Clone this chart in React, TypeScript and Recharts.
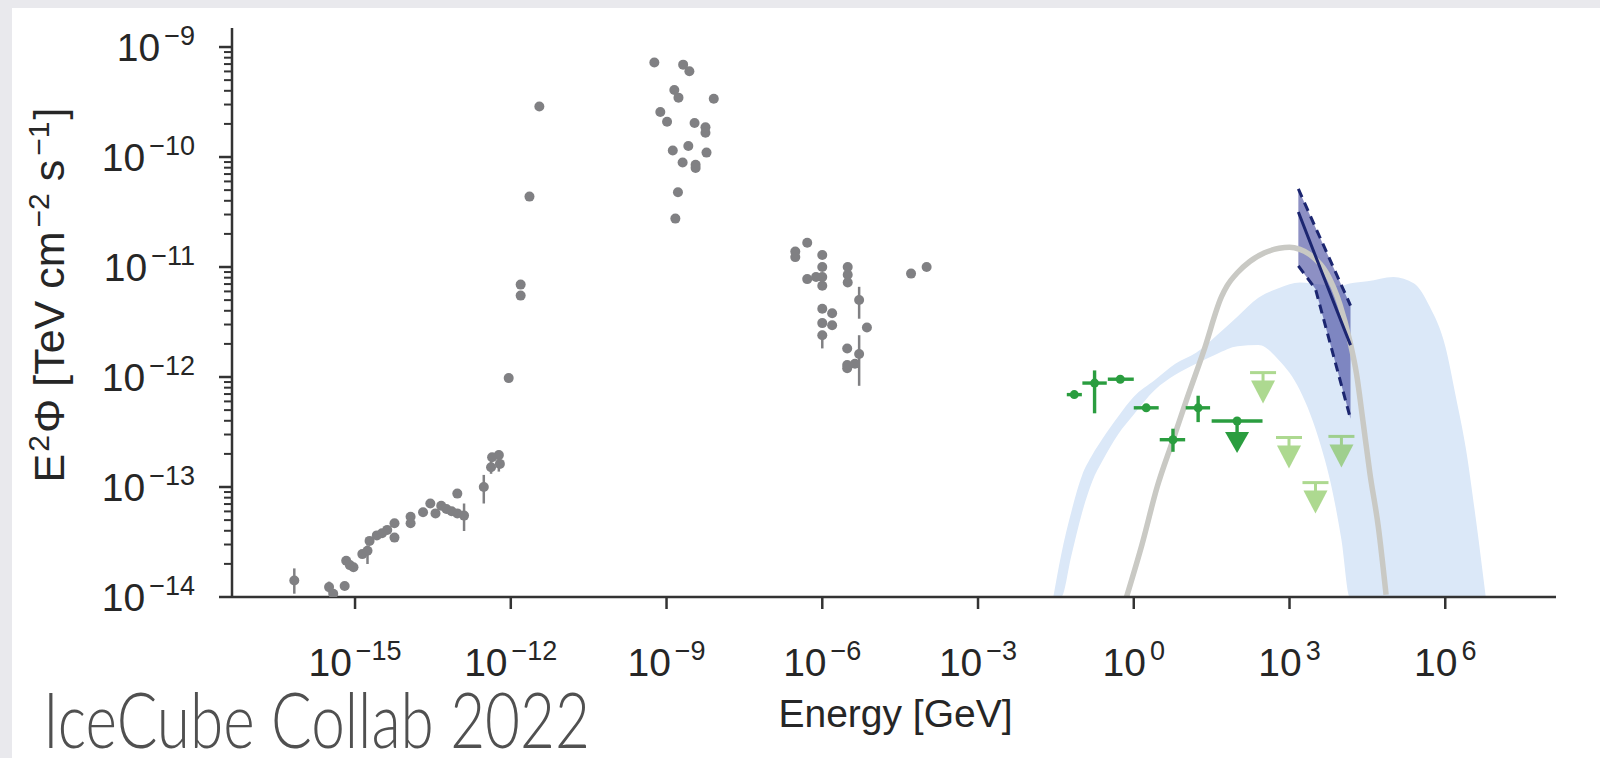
import React from 'react';
import { ComposedChart, XAxis, YAxis, Scatter, Line, Area, ErrorBar } from 'recharts';

const FONT = "'Liberation Sans', Arial, Helvetica, sans-serif";
const INK = '#262626';
const SPINE = '#333333';

// All energies are log10(E / GeV), all fluxes log10(E²Φ / TeV cm⁻² s⁻¹).

// Archival multi-wavelength photon data (no error bars drawn)
const archivalLogE = [
  -15.42, -15.2, -15.17, -15.1, -15.03, -14.86, -14.72, -14.58, -14.48, -14.38,
  -14.24, -14.24, -13.93, -13.93, -13.69, -13.55, -13.45, -13.34, -13.24, -13.14,
  -13.03, -13.03, -12.36, -12.21, -12.04, -11.81, -11.81, -11.64, -11.45,
  -9.235, -8.68, -8.56, -8.85, -8.77, -8.09, -9.12, -8.99, -8.46, -8.25,
  -8.25, -8.88, -8.58, -8.23, -8.69, -8.44, -8.44, -8.78, -8.83,
  -6.29, -6.52, -6.52, -6.0, -6.0, -6.0, -6.29, -6.12, -6.0, -5.51,
  -5.51, -5.51, -4.29, -3.99, -6.0, -5.81, -6.0, -5.81, -5.14, -5.52,
  -5.52, -5.52, -5.37,
];
const archivalLogFlux = [
  -13.97, -13.9, -13.67, -13.71, -13.73, -13.61, -13.49, -13.44, -13.42, -13.39,
  -13.33, -13.46, -13.27, -13.33, -13.23, -13.15, -13.24, -13.17, -13.2, -13.22,
  -13.06, -13.24, -12.73, -12.79, -12.01, -11.16, -11.26, -10.36, -9.54,
  -9.14, -9.16, -9.22, -9.39, -9.46, -9.47, -9.59, -9.68, -9.69, -9.73,
  -9.78, -9.94, -9.9, -9.96, -10.05, -10.07, -10.1, -10.32, -10.56,
  -10.78, -10.86, -10.91, -10.89, -11.0, -11.09, -11.11, -11.09, -11.17, -11.0,
  -11.07, -11.14, -11.06, -11.0, -11.38, -11.42, -11.51, -11.53, -11.55, -11.74,
  -11.89, -11.92, -11.88,
];

// Archival points that carry vertical error bars
const archivalBarLogE = [-16.17, -15.5, -14.76, -12.9, -12.52, -12.38, -12.23, -5.29, -6.0, -5.29];
const archivalBarLogFlux = [-13.85, -13.91, -13.58, -13.26, -13.0, -12.82, -12.71, -11.3, -11.62, -11.79];
const archivalBarLo = [-13.97, -13.96, -13.7, -13.4, -13.15, -12.88, -12.86, -11.47, -11.74, -12.08];
const archivalBarHi = [-13.74, -13.86, -13.53, -13.15, -12.89, -12.74, -12.67, -11.18, -11.58, -11.62];

// Fermi-LAT flux points
const fermiLogE = [-1.146, -0.755, -0.26, 0.24, 0.755, 1.24];
const fermiLogFlux = [-12.16, -12.055, -12.02, -12.28, -12.57, -12.28];
const fermiELo = [-1.29, -0.99, -0.5, 0.0, 0.5, 1.0];
const fermiEHi = [-1.0, -0.52, 0.0, 0.48, 0.99, 1.47];
const fermiFluxLo = [-12.16, -12.33, -12.02, -12.28, -12.68, -12.41];
const fermiFluxHi = [-12.16, -11.94, -12.02, -12.28, -12.47, -12.17];

// Fermi-LAT bin reported as upper limit
const fermiUlLogE = [1.99];
const fermiUlLogFlux = [-12.4];
const fermiUlELo = [1.5];
const fermiUlEHi = [2.48];

// Gamma-ray upper limits at higher energies
const limitLogE = [2.49, 2.99, 3.5, 4.0];
const limitLogFlux = [-11.96, -12.55, -12.96, -12.54];

// Model neutrino band
const bandLogE = [
  -1.55, -1.4, -1.2, -1.0, -0.8, -0.6, -0.3, 0.0, 0.4, 0.8, 1.2, 1.6, 2.0, 2.4, 2.8,
  3.2, 3.6, 3.8, 4.0, 4.16, 4.5, 5.0, 5.4, 5.7, 6.0, 6.2, 6.4, 6.6, 6.78,
];
const bandUpper = [
  -14.0, -13.62, -13.22, -12.9, -12.71, -12.56, -12.36, -12.18, -12.03, -11.88, -11.78, -11.62, -11.45, -11.28, -11.19,
  -11.14, -11.16, -11.17, -11.17, -11.15, -11.13, -11.09, -11.15, -11.36, -11.72, -12.17, -12.66, -13.33, -14.0,
];
const bandLower = [
  -14.0, -14.0, -13.62, -13.24, -12.95, -12.76, -12.52, -12.34, -12.12, -11.98, -11.88, -11.79, -11.72, -11.71, -11.85,
  -12.12, -12.62, -12.98, -13.48, -14.0, -14.0, -14.0, -14.0, -14.0, -14.0, -14.0, -14.0, -14.0, -14.0,
];

// Gamma-ray model curve
const curveLogE = [
  -0.14, 0.16, 0.45, 0.75, 1.0, 1.35, 1.69, 1.8, 2.0, 2.235, 2.52, 2.8, 3.0, 3.2, 3.4,
  3.72, 3.97, 4.16, 4.29, 4.42, 4.55, 4.71, 4.86,
];
const curveLogFlux = [
  -14.0, -13.52, -13.0, -12.58, -12.23, -11.76, -11.27, -11.17, -11.05, -10.95, -10.87, -10.83, -10.82, -10.84, -10.89,
  -11.06, -11.34, -11.67, -11.97, -12.42, -12.88, -13.36, -13.98,
];

// IceCube neutrino power-law fit with its uncertainty envelope
const icLogE = [3.17, 3.5, 4.175];
const icUpper = [-10.29, -10.64, -11.35];
const icLower = [-10.99, -11.2, -12.38];
const icBest = [-10.5, -10.9, -11.71];

// Axis ticks
const xTicks = [-15, -12, -9, -6, -3, 0, 3, 6];
const yDecades = [-14, -13, -12, -11, -10, -9];
const minorMultipliers = [2, 3, 4, 5, 6, 7, 8, 9];

const X_DOMAIN: [number, number] = [-17.37, 8.133];
const Y_DOMAIN: [number, number] = [-14, -8.827];

const yTicks: number[] = [];
yDecades.forEach((d) => {
  yTicks.push(d);
  if (d < -9) minorMultipliers.forEach((k) => yTicks.push(d + Math.log10(k)));
});

// Tables built for the chart
const archivalData = archivalLogE.map((x, i) => ({ x, y: archivalLogFlux[i] }));
const archivalBarData = archivalBarLogE.map((x, i) => ({
  x,
  y: archivalBarLogFlux[i],
  ey: [archivalBarLogFlux[i] - archivalBarLo[i], archivalBarHi[i] - archivalBarLogFlux[i]],
}));
const fermiData = fermiLogE.map((x, i) => ({
  x,
  y: fermiLogFlux[i],
  ex: [x - fermiELo[i], fermiEHi[i] - x],
  ey: [fermiLogFlux[i] - fermiFluxLo[i], fermiFluxHi[i] - fermiLogFlux[i]],
}));
const fermiUlData = fermiUlLogE.map((x, i) => ({
  x,
  y: fermiUlLogFlux[i],
  ex: [x - fermiUlELo[i], fermiUlEHi[i] - x],
}));
const limitData = limitLogE.map((x, i) => ({ x, y: limitLogFlux[i] }));
const bandData = bandLogE.map((x, i) => ({ x, band: [bandLower[i], bandUpper[i]] }));
const curveData = curveLogE.map((x, i) => ({ x, y: curveLogFlux[i] }));
const icBandData = icLogE.map((x, i) => ({ x, band: [icLower[i], icUpper[i]] }));
const icUpperData = icLogE.map((x, i) => ({ x, y: icUpper[i] }));
const icLowerData = icLogE.map((x, i) => ({ x, y: icLower[i] }));
const icBestData = icLogE.map((x, i) => ({ x, y: icBest[i] }));

const GRAY = '#808083';
const GREEN = '#2a9d3f';
const LIGHT_GREEN = '#78c048';
const BAND = '#dbe8f8';
const NAVY = '#1c2670';
const CURVE = '#c9c9c4';

const TICK_FONT = 39;
const TICK_SUP = 27;

const expText = (n: number) => (n < 0 ? '\u2212' + Math.abs(n) : String(n));

const XTick = (props: any) => {
  const { x, y, payload } = props;
  return (
    <g>
      <line x1={x} x2={x} y1={y} y2={y + 12} stroke={SPINE} strokeWidth={2.5} />
      <text x={x} y={y + 79} textAnchor="middle" fontSize={TICK_FONT} fill={INK} fontFamily={FONT}>
        10
        <tspan dx={4} dy={-16} fontSize={TICK_SUP}>
          {expText(payload.value)}
        </tspan>
      </text>
    </g>
  );
};

const YTick = (props: any) => {
  const { x, y, payload } = props;
  const v = payload.value as number;
  const major = Math.abs(v - Math.round(v)) < 1e-9;
  return (
    <g>
      <line
        x1={x - (major ? 13 : 8)}
        x2={x}
        y1={y}
        y2={y}
        stroke={SPINE}
        strokeWidth={major ? 2.5 : 2}
      />
      {major && (
        <text x={x - 37} y={y + 14} textAnchor="end" fontSize={TICK_FONT} fill={INK} fontFamily={FONT}>
          10
          <tspan dx={4} dy={-16} fontSize={TICK_SUP}>
            {expText(Math.round(v))}
          </tspan>
        </text>
      )}
    </g>
  );
};

const dotShape = (r: number, color: string) => (p: any) =>
  <circle cx={p.cx} cy={p.cy} r={r} fill={color} />;

const limitShape = (p: any) => {
  const { cx, cy } = p;
  return (
    <g opacity={0.6}>
      <line x1={cx - 13} x2={cx + 13} y1={cy} y2={cy} stroke={LIGHT_GREEN} strokeWidth={3} />
      <line x1={cx} x2={cx} y1={cy} y2={cy + 9} stroke={LIGHT_GREEN} strokeWidth={3} />
      <polygon points={`${cx - 12},${cy + 8} ${cx + 12},${cy + 8} ${cx},${cy + 31}`} fill={LIGHT_GREEN} />
    </g>
  );
};

const fermiUlShape = (p: any) => {
  const { cx, cy } = p;
  return (
    <g>
      <circle cx={cx} cy={cy} r={4.5} fill={GREEN} />
      <line x1={cx} x2={cx} y1={cy} y2={cy + 12} stroke={GREEN} strokeWidth={3.4} />
      <polygon points={`${cx - 12},${cy + 11} ${cx + 12},${cy + 11} ${cx},${cy + 32}`} fill={GREEN} />
    </g>
  );
};

export default function App() {
  return (
    <div
      style={{
        position: 'absolute',
        left: 0,
        top: 0,
        width: 1600,
        height: 758,
        background: '#e9e9ed',
        overflow: 'hidden',
      }}
    >
      <div style={{ position: 'absolute', left: 12, top: 8, right: 0, bottom: 0, background: '#ffffff' }} />
      <div style={{ position: 'absolute', left: 0, top: 0 }}>
        <ComposedChart width={1600} height={758} margin={{ top: 28, right: 44, bottom: 31, left: 32 }}>
          <XAxis
            dataKey="x"
            type="number"
            domain={X_DOMAIN}
            allowDataOverflow
            ticks={xTicks}
            interval={0}
            height={130}
            tickSize={0}
            tickMargin={0}
            tickLine={false}
            tick={<XTick />}
            axisLine={{ stroke: SPINE, strokeWidth: 2.5 }}
          />
          <XAxis
            xAxisId="top"
            orientation="top"
            dataKey="x"
            type="number"
            domain={X_DOMAIN}
            allowDataOverflow
            height={0}
            tick={false}
            tickLine={false}
            axisLine={{ stroke: SPINE, strokeWidth: 2.5 }}
          />
          <YAxis
            type="number"
            domain={Y_DOMAIN}
            allowDataOverflow
            ticks={yTicks}
            interval={0}
            width={200}
            tickSize={0}
            tickMargin={0}
            tickLine={false}
            tick={<YTick />}
            axisLine={{ stroke: SPINE, strokeWidth: 2.5 }}
          />
          <YAxis
            yAxisId="right"
            orientation="right"
            type="number"
            domain={Y_DOMAIN}
            allowDataOverflow
            width={0}
            tick={false}
            tickLine={false}
            axisLine={{ stroke: SPINE, strokeWidth: 2.5 }}
          />

          <Area
            data={bandData}
            dataKey="band"
            type="monotone"
            stroke="none"
            fill={BAND}
            fillOpacity={1}
            isAnimationActive={false}
          />
          <Line
            data={curveData}
            dataKey="y"
            type="monotone"
            stroke={CURVE}
            strokeWidth={5.5}
            dot={false}
            activeDot={false}
            isAnimationActive={false}
          />
          <Scatter data={archivalData} dataKey="y" shape={dotShape(5, GRAY)} isAnimationActive={false} />
          <Scatter data={archivalBarData} dataKey="y" shape={dotShape(5, GRAY)} isAnimationActive={false}>
            <ErrorBar dataKey="ey" direction="y" width={0} stroke={GRAY} strokeWidth={2.5} />
          </Scatter>
          <Scatter data={fermiData} dataKey="y" shape={dotShape(4.5, GREEN)} isAnimationActive={false}>
            <ErrorBar dataKey="ex" direction="x" width={0} stroke={GREEN} strokeWidth={3.4} />
            <ErrorBar dataKey="ey" direction="y" width={0} stroke={GREEN} strokeWidth={3.4} />
          </Scatter>
          <Scatter data={fermiUlData} dataKey="y" shape={fermiUlShape} isAnimationActive={false}>
            <ErrorBar dataKey="ex" direction="x" width={0} stroke={GREEN} strokeWidth={3.4} />
          </Scatter>
          <Scatter data={limitData} dataKey="y" shape={limitShape} isAnimationActive={false} />

          <Area
            data={icBandData}
            dataKey="band"
            type="linear"
            stroke="none"
            fill="#3a3f9a"
            fillOpacity={0.58}
            isAnimationActive={false}
          />
          <Line
            data={icUpperData}
            dataKey="y"
            type="linear"
            stroke={NAVY}
            strokeWidth={3}
            strokeDasharray="9 6"
            dot={false}
            activeDot={false}
            isAnimationActive={false}
          />
          <Line
            data={icLowerData}
            dataKey="y"
            type="linear"
            stroke={NAVY}
            strokeWidth={3}
            strokeDasharray="9 6"
            dot={false}
            activeDot={false}
            isAnimationActive={false}
          />
          <Line
            data={icBestData}
            dataKey="y"
            type="linear"
            stroke={NAVY}
            strokeWidth={3}
            dot={false}
            activeDot={false}
            isAnimationActive={false}
          />
        </ComposedChart>
      </div>
      <svg
        width={1600}
        height={758}
        style={{ position: 'absolute', left: 0, top: 0, pointerEvents: 'none' }}
      >
        <text
          x={64}
          y={295}
          transform="rotate(-90 64 295)"
          textAnchor="middle"
          fontSize={43}
          fill={INK}
          fontFamily={FONT}
        >
          E
          <tspan dx={2} dy={-15} fontSize={30}>2</tspan>
          <tspan dx={2} dy={15}>Φ [TeV cm</tspan>
          <tspan dx={4} dy={-15} fontSize={30}>{'\u22122'}</tspan>
          <tspan dy={15}> s</tspan>
          <tspan dx={4} dy={-15} fontSize={30}>{'\u22121'}</tspan>
          <tspan dx={2} dy={15}>]</tspan>
        </text>
        <text x={895.5} y={727} textAnchor="middle" fontSize={39} fill={INK} fontFamily={FONT}>
          Energy [GeV]
        </text>
        <text
          x={43}
          y={748}
          fontSize={76}
          fontWeight={300}
          fill="#505050"
          fontFamily="Lato, 'Open Sans', 'Noto Sans', sans-serif"
          textLength={547}
          lengthAdjust="spacingAndGlyphs"
        >
          IceCube Collab 2022
        </text>
      </svg>
    </div>
  );
}
